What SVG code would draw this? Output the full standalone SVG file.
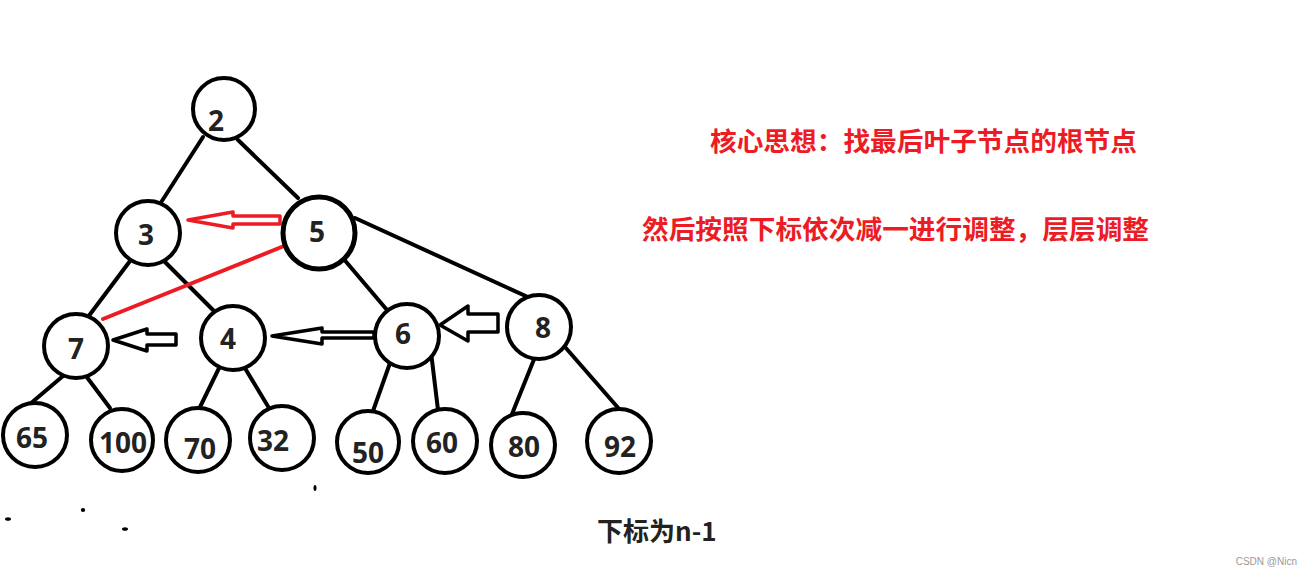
<svg xmlns="http://www.w3.org/2000/svg" width="1310" height="575" viewBox="0 0 1310 575">
<style>
.n circle{fill:#fff;stroke:#000;stroke-width:4}
.n text{font-family:"Noto Sans","Noto Sans CJK SC",sans-serif;font-weight:bold;font-size:28px;fill:#222;text-anchor:middle}
.e line{stroke:#000;stroke-width:4;stroke-linecap:round}
.ha{fill:#fff;stroke:#000;stroke-width:3.5;stroke-linejoin:round}
.hr{fill:#fff;stroke:#ed1c24;stroke-width:3.5;stroke-linejoin:round}
.red{font-family:"Noto Sans CJK SC",sans-serif;font-weight:bold;font-size:26.7px;fill:#ed1c24}
</style>
<rect width="1310" height="575" fill="#fff"/>
<g id="connectors" class="e">
<line x1="203" y1="137" x2="160" y2="204"/>
<line x1="238" y1="140" x2="298" y2="198"/>
<line x1="355" y1="218" x2="530" y2="298"/>
<line x1="342" y1="257" x2="387" y2="310"/>
<line x1="130" y1="261" x2="88" y2="317"/>
<line x1="163" y1="260" x2="213" y2="310"/>
<line x1="63" y1="376" x2="30" y2="404"/>
<line x1="86" y1="376" x2="110" y2="408"/>
<line x1="222" y1="362" x2="200" y2="407"/>
<line x1="240" y1="360" x2="269" y2="408"/>
<line x1="390" y1="363" x2="373" y2="411"/>
<line x1="431" y1="352" x2="438" y2="410"/>
<line x1="539" y1="347" x2="512" y2="414"/>
<line x1="565" y1="347" x2="620" y2="410"/>
<line x1="284" y1="246" x2="103" y2="319" style="stroke:#ed1c24;stroke-width:4"/>
<path class="hr" d="M188,220 L233,212 L233,216 L280,216 L280,224 L233,224 L233,228 Z"/>
<path class="ha" d="M113,340 L147,329 L147,334 L176,334 L176,345 L147,345 L147,351 Z"/>
<path class="ha" d="M272,336 L322,328 L322,332 L374,332 L374,338 L322,338 L322,344 Z"/>
<path class="ha" d="M440,325 L468,306 L468,314 L498,314 L498,332 L468,332 L468,341 Z"/>
</g>
<g id="n2" class="n"><circle cx="224" cy="109" r="31"/><text x="216" y="131">2</text></g>
<g id="n3" class="n"><circle cx="148" cy="233" r="32"/><text x="146" y="245">3</text></g>
<g id="n5" class="n"><circle cx="319" cy="233" r="36" style="stroke-width:5"/><text x="317" y="242">5</text></g>
<g id="n7" class="n"><circle cx="76" cy="346" r="32"/><text x="76" y="359">7</text></g>
<g id="n4" class="n"><circle cx="233" cy="338" r="32"/><text x="228" y="349">4</text></g>
<g id="n6" class="n"><circle cx="407" cy="336" r="32"/><text x="403" y="344">6</text></g>
<g id="n8" class="n"><circle cx="539" cy="327" r="32"/><text x="543" y="338">8</text></g>
<g id="n65" class="n"><circle cx="35" cy="435" r="32"/><text x="32" y="448">65</text></g>
<g id="n100" class="n"><circle cx="122" cy="440" r="31"/><text x="123" y="453">100</text></g>
<g id="n70" class="n"><circle cx="198" cy="440" r="32"/><text x="200" y="459">70</text></g>
<g id="n32" class="n"><circle cx="282" cy="438" r="32"/><text x="273" y="451">32</text></g>
<g id="n50" class="n"><circle cx="368" cy="442" r="31"/><text x="368" y="463">50</text></g>
<g id="n60" class="n"><circle cx="445" cy="441" r="32"/><text x="442" y="453">60</text></g>
<g id="n80" class="n"><circle cx="523" cy="445" r="32"/><text x="524" y="457">80</text></g>
<g id="n92" class="n"><circle cx="619" cy="441" r="32"/><text x="620" y="457">92</text></g>
<g id="dots" fill="#000">
<ellipse cx="315" cy="488" rx="1.5" ry="3"/>
<ellipse cx="8" cy="519" rx="3" ry="1.8"/>
<ellipse cx="83" cy="510" rx="2.2" ry="2"/>
<ellipse cx="125" cy="529" rx="3" ry="1.8"/>
</g>
<text class="red" x="710" y="151">核心思想：找最后叶子节点的根节点</text>
<text class="red" x="642" y="239">然后按照下标依次减一进行调整，层层调整</text>
<text x="597" y="541" style="font-family:'Noto Sans CJK SC',sans-serif;font-weight:bold;font-size:26px;fill:#222">下标为n-1</text>
<text x="1297" y="565" text-anchor="end" style="font-family:'Liberation Sans',sans-serif;font-size:10px;fill:#999">CSDN @Nicn</text>
</svg>
